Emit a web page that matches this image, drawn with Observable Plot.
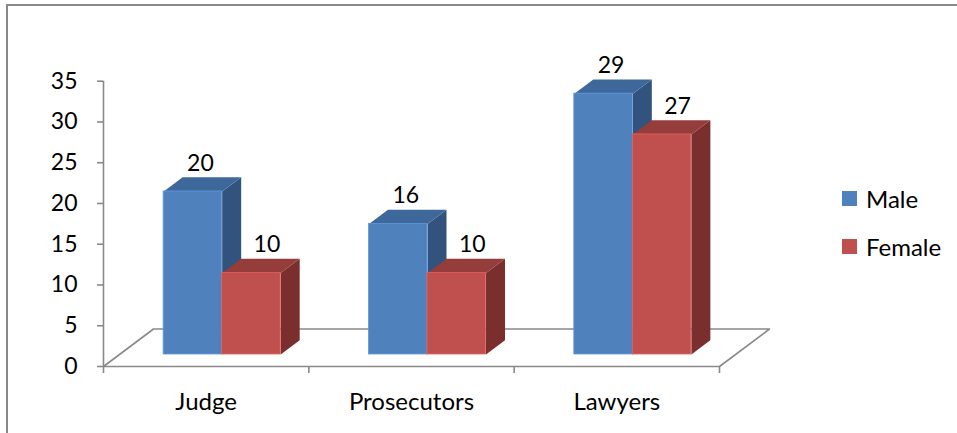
<!DOCTYPE html>
<html><head><meta charset="utf-8">
<script src="https://cdn.jsdelivr.net/npm/d3@7"></script>
<script src="https://cdn.jsdelivr.net/npm/@observablehq/plot@0.6"></script>
<style>
body{margin:0;background:#fff;font-family:Lato,sans-serif}
#wrap{position:relative;width:957px;height:433px;overflow:hidden;background:#fff}
#frame{position:absolute;left:6px;top:4px;width:1000px;height:1000px;border-top:2px solid #898989;border-left:2px solid #898989;box-sizing:border-box}
#chart{position:absolute;left:0;top:0}
.leg{position:absolute;display:flex;align-items:center;height:15px;font-size:24px;color:#000;white-space:nowrap}
.leg span.sw{display:inline-block;width:15px;height:15px;margin-right:9px}
</style></head>
<body><div id="wrap"><div id="frame"></div><div id="chart"></div><div id="legend"></div></div>
<script>
// ---- data ----
const categories = ["Judge", "Prosecutors", "Lawyers"];
const series = ["Male", "Female"];
const male = [20, 16, 32];          // bar heights as drawn
const female = [10, 10, 27];
const maleLabels = ["20", "16", "29"];   // data labels as printed
const femaleLabels = ["10", "10", "27"];
const yTicks = [0, 5, 10, 15, 20, 25, 30, 35];

// ---- styling ----
const palette = {
  Male:   {front: "#4F81BD", top: "#3F689A", side: "#31537E"},
  Female: {front: "#C0504D", top: "#943D3B", side: "#7A2F2E"}
};
const axisColor = "#898989";
const X0 = 103, X1 = 719, Y0 = 366, Y1 = 80.7;
const pxX = (X1 - X0) / categories.length, pxY = (Y0 - Y1) / 35;
const ddx = 50 / pxX, ddy = 37.5 / pxY;        // floor depth, in data units
const f0 = 0.32, f1 = 0.70;                     // bar depth band
const barStart = 0.215, barW = 0.285;

const bars = categories.flatMap((c, i) => series.map((s, j) => ({
  cat: c, series: s,
  value: j ? female[i] : male[i],
  label: j ? femaleLabels[i] : maleLabels[i],
  x0: i + barStart + j * barW,
  x1: i + barStart + (j + 1) * barW
})));

function topFace(b) {
  const v = b.value;
  return [[b.x0 + f0*ddx, v + f0*ddy], [b.x1 + f0*ddx, v + f0*ddy], [b.x1 + f1*ddx, v + f1*ddy], [b.x0 + f1*ddx, v + f1*ddy]]
    .map(([x, y]) => ({id: b.cat + b.series, x, y}));
}
function sideFace(b) {
  const v = b.value;
  return [[b.x1 + f0*ddx, f0*ddy], [b.x1 + f1*ddx, f1*ddy], [b.x1 + f1*ddx, v + f1*ddy], [b.x1 + f0*ddx, v + f0*ddy]]
    .map(([x, y]) => ({id: b.cat + b.series, x, y}));
}
const n = categories.length;
const floor = [[0, 0], [ddx, ddy], [n + ddx, ddy], [n, 0]].map(([x, y]) => ({x, y}));

const marks = [
  Plot.line(floor, {x: "x", y: "y", stroke: axisColor, strokeWidth: 1.6}),
  Plot.ruleX([0], {y1: 0, y2: 35, stroke: axisColor, strokeWidth: 1.6}),
  Plot.ruleY([0], {x1: 0, x2: n, stroke: axisColor, strokeWidth: 1.6}),
  Plot.ruleX(d3.range(n + 1), {y1: 0, y2: -7 / pxY, stroke: axisColor, strokeWidth: 1.6}),
  Plot.axisY({ticks: yTicks, tickSize: 6, tickPadding: 20, stroke: axisColor, strokeWidth: 1.6, fill: "#000", fontSize: 23, label: null, tickFormat: d => String(d)}),
  Plot.text(categories, {x: (d, i) => i + 0.5, y: 0, dy: 36, text: d => d, fontSize: 24, fill: "#000"})
];
for (const s of series) {
  const bs = bars.filter(b => b.series === s);
  const col = palette[s];
  marks.push(
    Plot.line(bs.flatMap(sideFace), {x: "x", y: "y", z: "id", fill: col.side, stroke: "none"}),
    Plot.line(bs.flatMap(topFace), {x: "x", y: "y", z: "id", fill: col.top, stroke: "none"}),
    Plot.rect(bs, {x1: d => d.x0 + f0*ddx, x2: d => d.x1 + f0*ddx, y1: f0*ddy, y2: d => d.value + f0*ddy, fill: col.front, stroke: d3.color(col.front).brighter(0.5).formatHex(), strokeWidth: 0.8})
  );
}
for (const s of series) {
  const bs = bars.filter(b => b.series === s);
  marks.push(Plot.text(bs, {
    x: d => (d.x0 + d.x1) / 2 + (f0 + f1) / 2 * ddx,
    y: d => d.value + f1 * ddy,
    text: "label", dy: -14, dx: s === "Male" ? -2 : 6,
    fontSize: 23, fill: "#000"
  }));
}

const chart = Plot.plot({
  width: 957, height: 433,
  marginLeft: X0, marginRight: 957 - X1, marginTop: Y1, marginBottom: 433 - Y0,
  x: {domain: [0, n], range: [X0, X1], axis: null},
  y: {domain: [0, 35], range: [Y0, Y1], label: null},
  style: {fontFamily: "Lato, sans-serif", background: "transparent", overflow: "visible"},
  marks
});
document.getElementById("chart").appendChild(chart);

const legend = document.getElementById("legend");
series.forEach((s, i) => {
  const row = document.createElement("div");
  row.className = "leg";
  row.style.left = "842px";
  row.style.top = (191 + i * 48) + "px";
  row.innerHTML = `<span class="sw" style="background:${palette[s].front}"></span><span>${s}</span>`;
  legend.appendChild(row);
});
</script>
</body></html>
